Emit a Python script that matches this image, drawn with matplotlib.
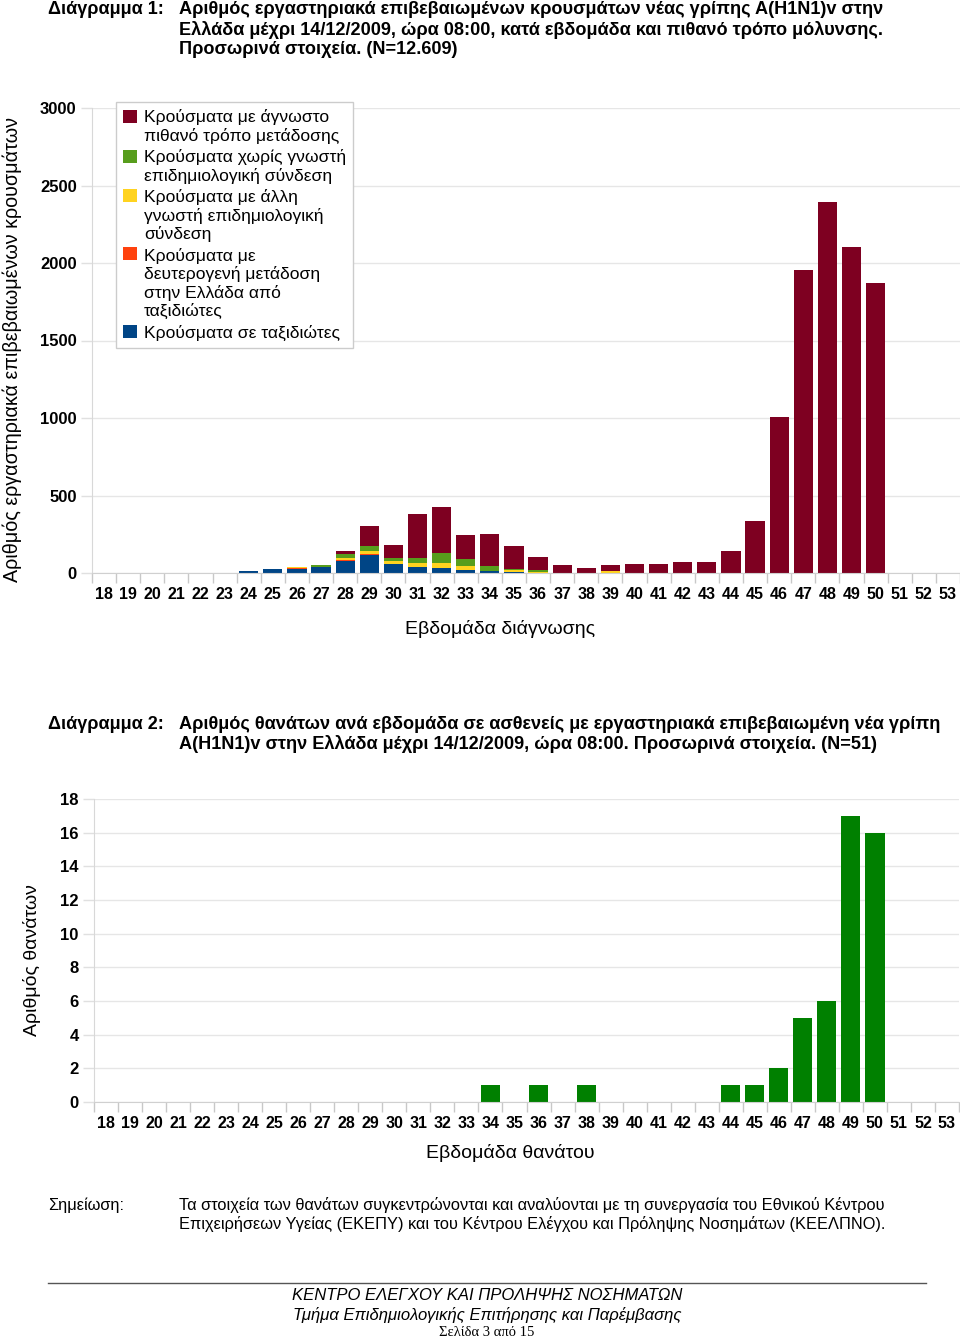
import numpy as np
import matplotlib
matplotlib.use('Agg')
import matplotlib.pyplot as plt
from matplotlib.patches import Patch, Rectangle
from matplotlib.legend_handler import HandlerBase
from matplotlib.ticker import MultipleLocator, FixedLocator

# ==========================================
# DADOS
# ==========================================
weeks = list(range(18, 54))

# 18 19 20 21 22 23 24 25 26 27 28 29  30  31  32  33  34  35 36 37 38 39 40 41 42 43 44  45   46   47   48   49   50 51 52 53
travel = [0, 0, 0, 3, 3, 0, 16, 28, 28, 37, 77, 116, 56, 39, 34, 22, 10, 6, 0, 0, 0, 0, 0, 0, 0, 0, 0, 0, 0, 0, 0, 0, 0, 0, 0, 0]
secondary = [0, 0, 0, 0, 0, 0, 0, 0, 6, 0, 10, 5, 2, 0, 0, 0, 0, 0, 0, 0, 0, 0, 0, 0, 0, 0, 0, 0, 0, 0, 0, 0, 0, 0, 0, 0]
other_link = [0, 0, 0, 0, 0, 0, 0, 0, 6, 4, 10, 22, 21, 28, 30, 21, 5, 13, 8, 0, 0, 15, 0, 0, 0, 0, 0, 0, 0, 0, 0, 0, 0, 0, 0, 0]
no_link = [0, 0, 0, 0, 0, 0, 0, 0, 0, 13, 25, 32, 21, 28, 67, 45, 28, 6, 10, 0, 0, 0, 0, 0, 0, 0, 0, 0, 0, 0, 0, 0, 0, 0, 0, 0]
unknown = [0, 0, 0, 0, 0, 0, 0, 0, 0, 0, 20, 130, 80, 284, 295, 155, 208, 146, 86, 52, 32, 39, 58, 58, 70, 73, 144, 335, 1008, 1954, 2391, 2105, 1873, 0, 0, 0]

deaths = [0, 0, 0, 0, 0, 0, 0, 0, 0, 0, 0, 0, 0, 0, 0, 0, 1, 0, 1, 0, 1, 0, 0, 0, 0, 0, 1, 1, 2, 5, 6, 17, 16, 0, 0, 0]

series = [
    (travel, '#004586', 'Κρούσματα σε ταξιδιώτες'),
    (secondary, '#ff420e', 'Κρούσματα με\nδευτερογενή μετάδοση\nστην Ελλάδα από\nταξιδιώτες'),
    (other_link, '#ffd320', 'Κρούσματα με άλλη\nγνωστή επιδημιολογική\nσύνδεση'),
    (no_link, '#579d1c', 'Κρούσματα χωρίς γνωστή\nεπιδημιολογική σύνδεση'),
    (unknown, '#7e0021', 'Κρούσματα με άγνωστο\nπιθανό τρόπο μετάδοσης'),
]

W, H = 960, 1338
SANS = ['Liberation Sans', 'DejaVu Sans']
plt.rcParams['font.family'] = SANS

LEG_FS = 12.6
LEG_LS = 1.2

fig = plt.figure(figsize=(W / 100, H / 100), dpi=100)


def px(x, y):
    return x / W, 1 - y / H


def axes_px(left, top, right, bottom):
    return [left / W, 1 - bottom / H, (right - left) / W, (bottom - top) / H]


class TopSquare(HandlerBase):
    # quadrado alinhado com a primeira linha do texto
    def create_artists(self, legend, orig_handle, xdescent, ydescent, width, height, fontsize, trans):
        n = orig_handle.get_label().count('\n') + 1
        shift = (n - 1) / 2 * fontsize * LEG_LS * 0.95
        r = Rectangle((-xdescent, -ydescent + shift), width, height,
                      facecolor=orig_handle.get_facecolor(), edgecolor='none', transform=trans)
        return [r]


def style_axes(ax, n):
    ax.set_xlim(-0.5, n - 0.5)
    ax.set_xticks(np.arange(n))
    ax.set_xticklabels([str(w) for w in weeks], fontsize=11.5, fontweight='bold')
    ax.xaxis.set_minor_locator(FixedLocator(np.arange(n + 1) - 0.5))
    ax.tick_params(axis='x', which='major', length=0, pad=10)
    ax.tick_params(axis='x', which='minor', length=7, color='#c8c8c8', width=1)
    ax.tick_params(axis='y', length=8, color='#e0e0e0', width=1, labelsize=12, pad=3)
    for lab in ax.get_yticklabels():
        lab.set_fontweight('bold')
    for s in ['top', 'right']:
        ax.spines[s].set_visible(False)
    ax.spines['left'].set_color('#d8d8d8')
    ax.spines['bottom'].set_color('#d0d0d0')
    ax.grid(axis='y', color='#e6e6e6', linewidth=1)
    ax.set_axisbelow(True)


# ==========================================
# TÍTULO 1
# ==========================================
fig.text(*px(48, 10), 'Διάγραμμα 1:', fontsize=13, fontweight='bold', va='center')
title1 = ['Αριθμός εργαστηριακά επιβεβαιωμένων κρουσμάτων νέας γρίπης Α(Η1Ν1)v στην',
          'Ελλάδα μέχρι 14/12/2009, ώρα 08:00, κατά εβδομάδα και πιθανό τρόπο μόλυνσης.',
          'Προσωρινά στοιχεία. (N=12.609)']
for i, t in enumerate(title1):
    fig.text(*px(179, 10 + 20 * i), t, fontsize=13.1, fontweight='bold', va='center')

# ==========================================
# GRÁFICO 1
# ==========================================
x = np.arange(len(weeks))
ax1 = fig.add_axes(axes_px(92, 108, 960, 573))
bottom = np.zeros(len(weeks))
for vals, col, lab in series:
    ax1.bar(x, vals, width=0.8, bottom=bottom, color=col, edgecolor='none')
    bottom += np.array(vals)
ax1.set_ylim(0, 3000)
ax1.yaxis.set_major_locator(MultipleLocator(500))
style_axes(ax1, len(weeks))
ax1.set_xlabel('Εβδομάδα διάγνωσης', fontsize=14)
ax1.xaxis.set_label_coords((500 - 92) / 868, -0.10)
fig.text(*px(12, 350), 'Αριθμός εργαστηριακά επιβεβαιωμένων κρουσμάτων', rotation=90,
         fontsize=14.2, ha='center', va='center')

handles = [Patch(facecolor=col, edgecolor='none', label=lab) for vals, col, lab in series[::-1]]
leg = ax1.legend(handles=handles, loc='upper left', bbox_to_anchor=((116 - 92) / 868, (573 - 102) / 465),
                 fontsize=LEG_FS, frameon=True, fancybox=False, edgecolor='#cccccc', framealpha=1,
                 handlelength=0.78, handleheight=0.78, handletextpad=0.4, labelspacing=0.3,
                 borderpad=0.42, borderaxespad=0, handler_map={Patch: TopSquare()})
leg.get_frame().set_linewidth(1)
for t in leg.get_texts():
    t.set_linespacing(LEG_LS)

# ==========================================
# TÍTULO 2
# ==========================================
fig.text(*px(48, 724), 'Διάγραμμα 2:', fontsize=13, fontweight='bold', va='center')
title2 = ['Αριθμός θανάτων ανά εβδομάδα σε ασθενείς με εργαστηριακά επιβεβαιωμένη νέα γρίπη',
          'Α(Η1Ν1)v στην Ελλάδα μέχρι 14/12/2009, ώρα 08:00. Προσωρινά στοιχεία. (N=51)']
for i, t in enumerate(title2):
    fig.text(*px(179, 724 + 20 * i), t, fontsize=13.1, fontweight='bold', va='center')

# ==========================================
# GRÁFICO 2
# ==========================================
ax2 = fig.add_axes(axes_px(94, 799, 959, 1102))
ax2.bar(x, deaths, width=0.8, color='#008000', edgecolor='none')
ax2.set_ylim(0, 18)
ax2.yaxis.set_major_locator(MultipleLocator(2))
style_axes(ax2, len(weeks))
ax2.set_xlabel('Εβδομάδα θανάτου', fontsize=14)
ax2.xaxis.set_label_coords((510 - 94) / 865, -0.137)
fig.text(*px(32, 960), 'Αριθμός θανάτων', rotation=90, fontsize=14, ha='center', va='center')

# ==========================================
# NOTA E RODAPÉ
# ==========================================
fig.text(*px(48, 1205), 'Σημείωση:', fontsize=11.8, va='center')
fig.text(*px(179, 1205), 'Τα στοιχεία των θανάτων συγκεντρώνονται και αναλύονται με τη συνεργασία του Εθνικού Κέντρου',
         fontsize=11.8, va='center')
fig.text(*px(179, 1224), 'Επιχειρήσεων Υγείας (ΕΚΕΠΥ) και του Κέντρου Ελέγχου και Πρόληψης Νοσημάτων (ΚΕΕΛΠΝΟ).',
         fontsize=11.8, va='center')

fig.add_artist(plt.Line2D([48 / W, 926 / W], [1 - 1283 / H] * 2, color='#555555', linewidth=1))
fig.text(*px(487, 1296), 'ΚΕΝΤΡΟ ΕΛΕΓΧΟΥ ΚΑΙ ΠΡΟΛΗΨΗΣ ΝΟΣΗΜΑΤΩΝ', fontsize=12,
         style='italic', ha='center', va='center')
fig.text(*px(487, 1315), 'Τμήμα Επιδημιολογικής Επιτήρησης και Παρέμβασης', fontsize=12,
         style='italic', ha='center', va='center')
fig.text(*px(487, 1332), 'Σελίδα 3 από 15', family=['Liberation Serif', 'DejaVu Serif'], fontsize=10.5,
         ha='center', va='center')

fig.savefig('out.png', dpi=100)
